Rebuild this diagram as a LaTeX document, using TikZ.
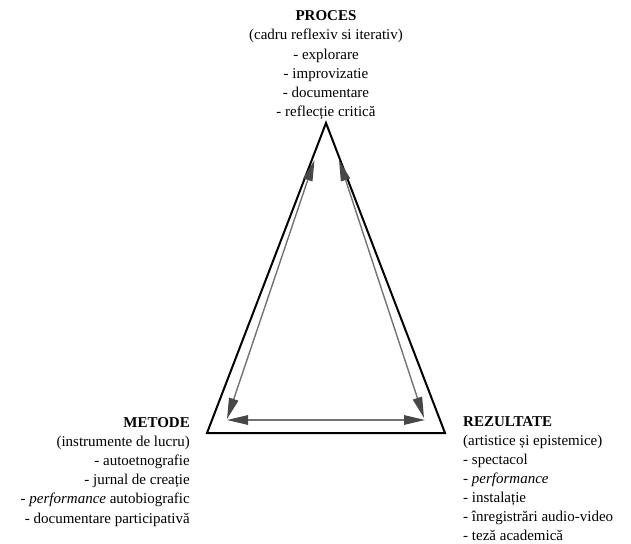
\documentclass[tikz,border=0pt]{standalone}
\usepackage{fontspec}
\setmainfont{Liberation Serif}
\usetikzlibrary{arrows.meta}
\begin{document}
\begin{tikzpicture}[x=1pt,y=-1pt,
  tri/.style={line width=2pt,line join=miter,black},
  dbl/.style={line width=1.4pt,draw=black!55,{Triangle[length=21pt,width=9.5pt,fill=black!72,color=black!72]}-{Triangle[length=21pt,width=9.5pt,fill=black!72,color=black!72]}},
  txt/.style={inner sep=0pt,font=\fontsize{15}{19.2}\selectfont}]
\useasboundingbox (0,0) rectangle (631,543);
\coordinate (A) at (326,123);
\coordinate (B) at (207,433);
\coordinate (C) at (445,433);
\draw[tri] (A) -- (B) -- (C) -- cycle;
\coordinate (l1) at (314.5,160);
\coordinate (l2) at (227,419);
\coordinate (r1) at (339,160);
\coordinate (r2) at (424,418);
\coordinate (h1) at (227,420);
\coordinate (h2) at (425,420);
\draw[dbl] (l1) -- (l2);
\draw[dbl] (r1) -- (r2);
\draw[dbl] (h1) -- (h2);
\node[txt,anchor=north,align=center] (proces) at (326,10.5)
 {\textbf{PROCES}\\(cadru reflexiv si iterativ)\\- explorare\\- improvizatie\\- documentare\\- reflecție critică};
\node[txt,anchor=north east,align=right] (metode) at (190,417)
 {\textbf{METODE}\\(instrumente de lucru)\\- autoetnografie\\- jurnal de creație\\- \textit{performance} autobiografic\\- documentare participativă};
\node[txt,anchor=north west,align=left,font=\fontsize{15}{19}\selectfont] (rez) at (463,416)
 {\textbf{REZULTATE}\\(artistice și epistemice)\\- spectacol\\- \textit{performance}\\- instalație\\- înregistrări audio-video\\- teză academică};
\end{tikzpicture}
\end{document}
